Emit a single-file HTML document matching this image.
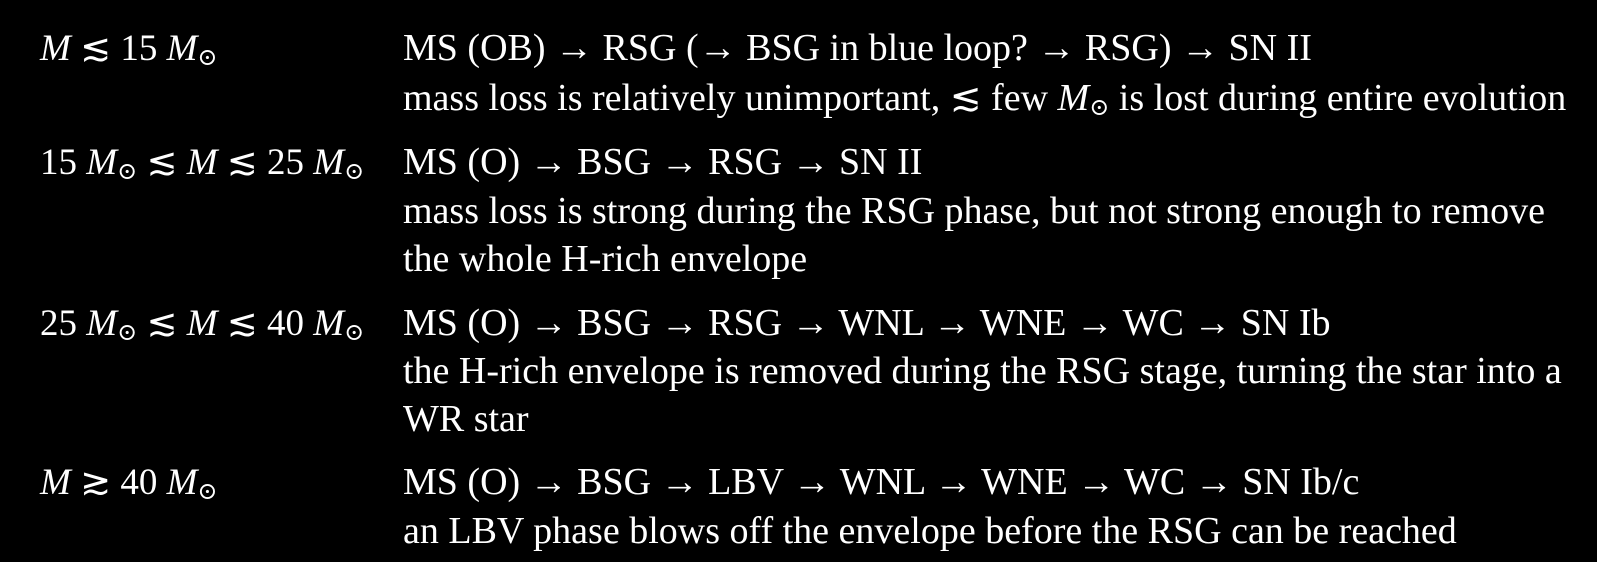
<!DOCTYPE html>
<html><head><meta charset="utf-8"><style>
html,body{margin:0;padding:0;background:#000;}
body{width:1597px;height:562px;position:relative;overflow:hidden;color:#fff;font-family:"Liberation Serif","DejaVu Serif",serif;font-size:38px;}
.l{position:absolute;line-height:47px;white-space:nowrap;}
.a{left:40px;font-size:37px}.b{left:403px}
i{font-style:italic}
sub{font-size:24px;vertical-align:-5px;line-height:0}
</style></head><body>
<div class="l a" style="top:25px"><i>M</i> ≲ 15 <i>M</i><sub>⊙</sub></div>
<div class="l b" style="top:25px">MS (OB) → RSG (→ BSG in blue loop? → RSG) → SN II</div>
<div class="l b" style="top:75px">mass loss is relatively unimportant, ≲ few <i>M</i><sub>⊙</sub> is lost during entire evolution</div>

<div class="l a" style="top:139px">15 <i>M</i><sub>⊙</sub> ≲ <i>M</i> ≲ 25 <i>M</i><sub>⊙</sub></div>
<div class="l b" style="top:139px">MS (O) → BSG → RSG → SN II</div>
<div class="l b" style="top:188px">mass loss is strong during the RSG phase, but not strong enough to remove</div>
<div class="l b" style="top:236px">the whole H-rich envelope</div>

<div class="l a" style="top:300px">25 <i>M</i><sub>⊙</sub> ≲ <i>M</i> ≲ 40 <i>M</i><sub>⊙</sub></div>
<div class="l b" style="top:300px">MS (O) → BSG → RSG → WNL → WNE → WC → SN Ib</div>
<div class="l b" style="top:348px">the H-rich envelope is removed during the RSG stage, turning the star into a</div>
<div class="l b" style="top:396px">WR star</div>

<div class="l a" style="top:459px"><i>M</i> ≳ 40 <i>M</i><sub>⊙</sub></div>
<div class="l b" style="top:459px">MS (O) → BSG → LBV → WNL → WNE → WC → SN Ib/c</div>
<div class="l b" style="top:508px">an LBV phase blows off the envelope before the RSG can be reached</div>
</body></html>
